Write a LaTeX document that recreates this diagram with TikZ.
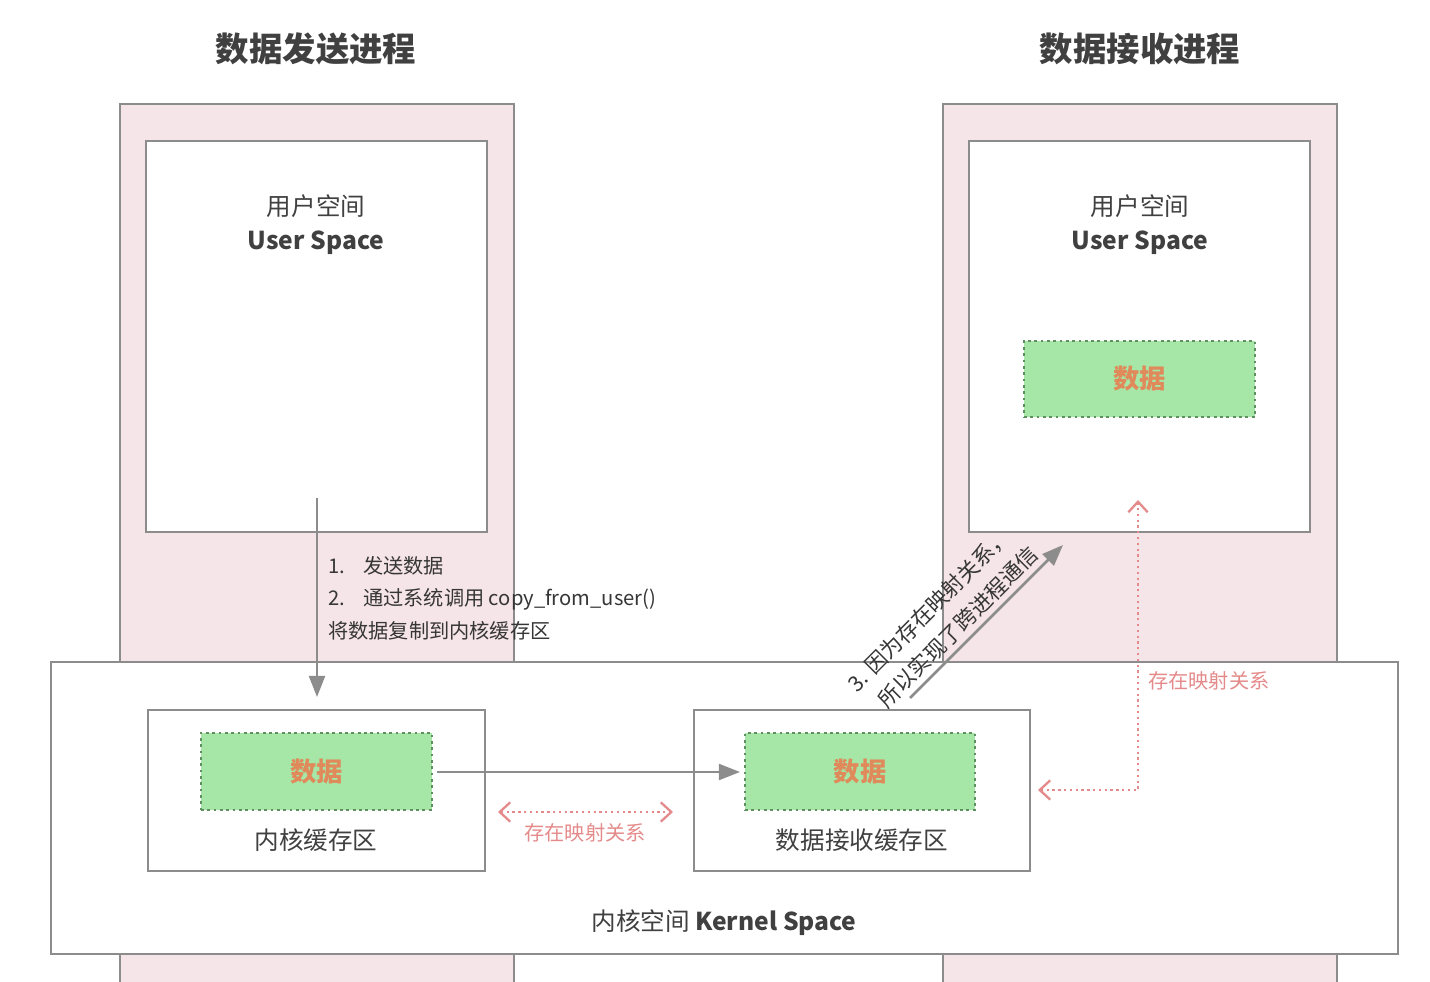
\documentclass[tikz,border=0pt]{standalone}
\usepackage{fontspec}
\setmainfont{Noto Sans CJK SC}
\usetikzlibrary{arrows.meta}
\definecolor{pinkfill}{HTML}{F5E4E8}
\definecolor{boxgray}{HTML}{8C8C8C}
\definecolor{greenfill}{HTML}{A6E6A6}
\definecolor{greenedge}{HTML}{5E8F5E}
\definecolor{datatext}{HTML}{E0895A}
\definecolor{mapred}{HTML}{E58A8A}
\definecolor{txtgray}{HTML}{404040}
\tikzset{
  proc/.style={draw=boxgray, line width=1.4pt, fill=pinkfill},
  whitebox/.style={draw=boxgray, line width=1.4pt, fill=white},
  databox/.style={draw=greenedge, dotted, line width=1.6pt, fill=greenfill},
  datalabel/.style={text=datatext, font=\fontsize{15}{18}\selectfont\bfseries},
  title/.style={text=txtgray, font=\fontsize{19}{22}\selectfont\bfseries},
  label/.style={text=txtgray, font=\fontsize{14}{17}\selectfont},
  steptext/.style={text=txtgray!85!black, font=\fontsize{11.5}{18}\selectfont, anchor=west},
  diagtext/.style={text=txtgray!85!black, font=\fontsize{12.3}{14}\selectfont, rotate=45, inner sep=0pt},
  maptext/.style={text=mapred, font=\fontsize{11.5}{14}\selectfont},
  grayarrow/.style={draw=boxgray, line width=1.6pt, -{Triangle[length=12pt,width=9pt]}},
  maparrow/.style={draw=mapred, dotted, line width=1.3pt},
}
\begin{document}
\begin{tikzpicture}[x=0.02cm,y=-0.02cm]
\useasboundingbox (0,0) rectangle (1430,982);
\fill[white] (0,0) rectangle (1430,982);
\begin{scope}
\clip (0,0) rectangle (1430,982);
% process columns
\path[proc] (120,104) rectangle (514,1010);
\path[proc] (943,104) rectangle (1337,1010);
\end{scope}
% user space boxes
\path[whitebox] (146,141) rectangle (487,532);
\path[whitebox] (969,141) rectangle (1310,532);
\node[label] (lus1) at (316,206) {用户空间};
\node[label, font=\fontsize{14}{17}\selectfont\bfseries] (lus2) at (316,243) {User Space};
\node[label] (rus1) at (1140,206) {用户空间};
\node[label, font=\fontsize{14}{17}\selectfont\bfseries] (rus2) at (1140,243) {User Space};
% titles
\node[title] (ltitle) at (316,49) {数据发送进程};
\node[title] (rtitle) at (1140,49) {数据接收进程};
% kernel space
\path[whitebox] (51,662) rectangle (1398,954);
\node[label] (kstxt) at (724,923) {内核空间 \textbf{Kernel Space}};
% kernel buffers
\path[whitebox] (148,710) rectangle (485,871);
\path[whitebox] (694,710) rectangle (1030,871);
\node[label] (kbuf) at (316,840) {内核缓存区};
\node[label] (rbuf) at (862,840) {数据接收缓存区};
% data boxes
\node[databox, minimum width=231*0.02cm, minimum height=77*0.02cm, inner sep=0pt] (d1) at (316.5,771.5) {};
\node[datalabel] at (d1) {数据};
\node[databox, minimum width=230*0.02cm, minimum height=77*0.02cm, inner sep=0pt] (d2) at (860,771.5) {};
\node[datalabel] at (d2) {数据};
\node[databox, minimum width=231*0.02cm, minimum height=76*0.02cm, inner sep=0pt] (d3) at (1139.5,379) {};
\node[datalabel] at (d3) {数据};
% step 1/2 arrow
\coordinate (a1s) at (317,498);
\coordinate (a1e) at (317,697);
\draw[grayarrow] (a1s) -- (a1e);
\node[steptext] (s1) at (322,566) {1.\hspace{0.9em}发送数据};
\node[steptext] (s2) at (322,599) {2.\hspace{0.9em}通过系统调用 copy\_from\_user()};
\node[steptext] (s3) at (322,631) {将数据复制到内核缓存区};
% copy arrow
\coordinate (a2s) at (437,772);
\coordinate (a2e) at (740,772);
\draw[grayarrow] (a2s) -- (a2e);
% mapping between buffers
\coordinate (m1s) at (498,812);
\coordinate (m1e) at (673,812);
\draw[maparrow, {Straight Barb[length=6pt,width=11pt]}-{Straight Barb[length=6pt,width=11pt]}] (m1s) -- (m1e);
\node[maptext] (m1t) at (585,833) {存在映射关系};
% mapping to user space
\coordinate (m2s) at (1038,790);
\coordinate (m2c) at (1138,790);
\coordinate (m2e) at (1138,500);
\draw[maparrow, {Straight Barb[length=6pt,width=11pt]}-{Straight Barb[length=6pt,width=11pt]}] (m2s) -- (m2c) -- (m2e);
\node[maptext, anchor=west] (m2t) at (1142,681) {存在映射关系};
% IPC arrow
\coordinate (a3s) at (910,698);
\coordinate (a3e) at (1063,545);
\draw[grayarrow] (a3s) -- (a3e);
\node[diagtext] (s4a) at (929,610) {3. 因为存在映射关系，};
\node[diagtext] (s4b) at (958,627) {所以实现了跨进程通信};
\end{tikzpicture}
\end{document}
